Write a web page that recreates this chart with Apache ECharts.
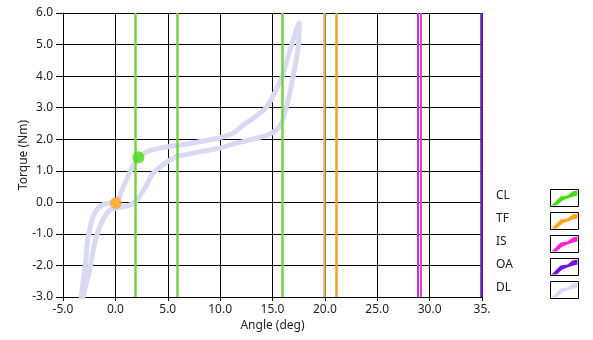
<!DOCTYPE html>
<html>
<head>
<meta charset="utf-8">
<script src="https://cdn.jsdelivr.net/npm/echarts@6/dist/echarts.min.js"></script>
<style>
  html, body { margin: 0; padding: 0; background: #fff; }
  #chart { width: 593px; height: 340px; }
</style>
</head>
<body>
<div id="chart"></div>
<script>
// Cursor positions (deg) for each marker group
const clLines = [1.9, 5.9, 15.9];
const tfLines = [19.93, 21.13];
const isLines = [28.88, 29.2];
const oaLines = [34.92];

// Current operating points [angle, torque]
const clPoint = [2.2, 1.43];
const tfPoint = [0.05, -0.02];

// Drive-line hysteresis loop: loading branch then unloading branch
const dlAngle = [
  -3.25, -3.0, -2.8, -2.68, -2.46, -2.14, -1.66, -1.02, -0.4, 0.1, 0.6, 1.05, 1.6, 2.2,
  3.0, 4.0, 5.2, 6.5, 8.0, 10.0, 11.3, 12.2, 13.3, 14.4, 15.1, 15.87, 16.66, 17.3, 17.55,
  17.52, 17.14, 16.5, 15.9, 15.4, 14.4, 12.5, 11.25, 10.0, 8.0, 6.5, 5.8, 4.6, 3.6, 2.8,
  2.0, 1.5, 1.0, 0.1, -0.55, -1.19, -1.66, -1.98, -2.25, -2.46, -2.8, -3.1
];
const dlTorque = [
  -3.0, -2.3, -1.75, -1.3, -0.88, -0.46, -0.19, -0.05, -0.02, 0.02, 0.35, 0.71, 1.1, 1.42,
  1.6, 1.7, 1.77, 1.83, 1.92, 2.05, 2.2, 2.45, 2.7, 3.0, 3.4, 3.94, 4.8, 5.5, 5.68,
  5.15, 4.3, 3.25, 2.55, 2.3, 2.12, 1.95, 1.85, 1.72, 1.6, 1.5, 1.45, 1.2, 0.92, 0.45,
  0.05, -0.07, -0.12, -0.18, -0.24, -0.56, -0.93, -1.3, -1.75, -2.15, -2.6, -3.0
];

// Axis ranges and tick spacing
const xMin = -5, xMax = 35, xStep = 5;
const yMin = -3, yMax = 6, yStep = 1;

const seriesNames = ['CL', 'TF', 'IS', 'OA', 'DL'];
const seriesColors = ['#44dd11', '#ffa51f', '#ff22dd', '#7711dd', '#d9d9f4'];
const cursorColors = [['#74d443'], ['#e6b25a', '#f0a030'], ['#d030c8', '#e040d8'], ['#6a1fc0']];

const FONT = '"Noto Sans", "Open Sans", sans-serif';

function cursorSeries(idx, positions, point) {
  const cols = cursorColors[idx];
  return {
    name: seriesNames[idx],
    type: 'scatter',
    color: seriesColors[idx],
    symbolSize: 12,
    z: 10,
    data: point ? [point] : [],
    markLine: {
      silent: true,
      symbol: 'none',
      animation: false,
      label: { show: false },
      lineStyle: { width: idx === 2 ? 2 : 2.5, type: 'solid' },
      data: positions.map((v, i) => ({ xAxis: v, lineStyle: { color: cols[Math.min(i, cols.length - 1)] } }))
    }
  };
}

// Legend: name, framed swatch with a thick curved stroke in the series colour
const legendX = 496, legendTop = 197, legendStep = 23.0;
const boxX = 550.5, boxW = 28, boxH = 17;
const swatchTop = [[1, 16], [10, 7], [17, 6], [22, 2], [27, 1]];
const swatchBottom = [[27, 6], [23, 7], [17, 9], [12, 11], [6, 16]];
const legendGraphics = [];
seriesNames.forEach((n, i) => {
  const cy = legendTop + i * legendStep;
  const by = Math.round(cy - boxH / 2) + 0.5;
  legendGraphics.push({
    type: 'text', left: legendX, top: cy - 7,
    style: { text: n, fontFamily: FONT, fontSize: 12, fill: '#222', textVerticalAlign: 'top' }
  });
  legendGraphics.push({
    type: 'rect',
    shape: { x: boxX, y: by, width: boxW, height: boxH },
    style: { fill: '#fff', stroke: '#000', lineWidth: 1 }
  });
  legendGraphics.push({
    type: 'polygon',
    shape: { points: swatchTop.concat(swatchBottom).map(p => [boxX + p[0], by + p[1]]) },
    style: { fill: seriesColors[i] }
  });
});

const chart = echarts.init(document.getElementById('chart'));
chart.setOption({
  animation: false,
  backgroundColor: '#fff',
  textStyle: { fontFamily: FONT },
  grid: { left: 63, right: 111, top: 13, bottom: 43, containLabel: false },
  xAxis: {
    type: 'value', min: xMin, max: xMax, interval: xStep,
    name: 'Angle (deg)', nameLocation: 'middle', nameGap: 23, nameMoveOverlap: false,
    nameTextStyle: { fontFamily: FONT, fontSize: 12, color: '#222' },
    axisLine: { onZero: false, lineStyle: { color: '#000', width: 1 } },
    axisTick: { show: true, length: 4, lineStyle: { color: '#000' } },
    axisLabel: {
      fontFamily: FONT, fontSize: 12, color: '#222', margin: 7,
      formatter: v => (v === xMax ? '35.' : v.toFixed(1))
    },
    splitLine: { show: true, lineStyle: { color: '#000', width: 1 } }
  },
  yAxis: {
    type: 'value', min: yMin, max: yMax, interval: yStep,
    name: 'Torque (Nm)', nameLocation: 'middle', nameGap: 33, nameMoveOverlap: false,
    nameTextStyle: { fontFamily: FONT, fontSize: 12, color: '#222' },
    axisLine: { onZero: false, lineStyle: { color: '#000', width: 1 } },
    axisTick: { show: true, length: 7, lineStyle: { color: '#000' } },
    axisLabel: { fontFamily: FONT, fontSize: 12, color: '#222', margin: 10, formatter: v => v.toFixed(1) },
    splitLine: { show: true, lineStyle: { color: '#000', width: 1 } }
  },
  graphic: legendGraphics,
  series: [
    cursorSeries(0, clLines, clPoint),
    cursorSeries(1, tfLines, tfPoint),
    cursorSeries(2, isLines, null),
    cursorSeries(3, oaLines, null),
    {
      name: 'DL',
      type: 'line',
      color: seriesColors[4],
      z: 1,
      smooth: 0.3,
      symbol: 'none',
      clip: true,
      lineStyle: { width: 5, color: seriesColors[4], cap: 'round', join: 'round' },
      data: dlAngle.map((a, i) => [a, dlTorque[i]])
    }
  ]
});
</script>
</body>
</html>
